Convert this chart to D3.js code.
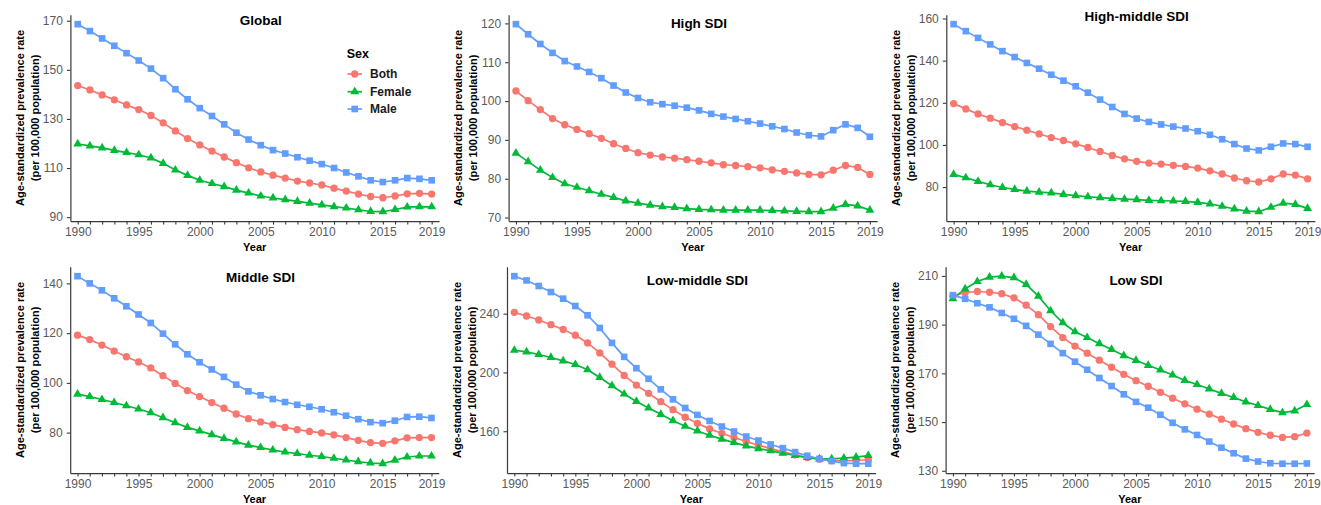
<!DOCTYPE html>
<html>
<head>
<meta charset="utf-8">
<script src="https://cdn.jsdelivr.net/npm/d3@7"></script>
<style>
  html, body { margin: 0; padding: 0; background: #ffffff; }
  svg { display: block; font-family: "Liberation Sans", Arial, Helvetica, sans-serif; }
</style>
</head>
<body>
<script>
// ---- Data: age-standardized prevalence rate (per 100,000), 1990-2019 ----
const years = [1990, 1991, 1992, 1993, 1994, 1995, 1996, 1997, 1998, 1999,
               2000, 2001, 2002, 2003, 2004, 2005, 2006, 2007, 2008, 2009,
               2010, 2011, 2012, 2013, 2014, 2015, 2016, 2017, 2018, 2019];
const labelYears = [1990, 1995, 2000, 2005, 2010, 2015, 2019];
const sexes = ["Both", "Female", "Male"];

const globalBoth   = [143.6, 141.8, 139.8, 137.8, 135.7, 133.8, 131.4, 128.4, 125.1, 122.0,
                      119.4, 116.9, 114.5, 112.2, 110.1, 108.4, 107.1, 105.9, 104.7, 103.9,
                      103.1, 101.8, 100.6, 99.4, 98.4, 97.9, 98.6, 99.5, 99.7, 99.4];
const globalFemale = [119.8, 119.0, 118.2, 117.2, 116.3, 115.4, 114.1, 111.9, 109.2, 107.0,
                      105.0, 103.7, 102.4, 101.0, 99.8, 98.6, 97.8, 97.1, 96.4, 95.7,
                      95.0, 94.3, 93.7, 93.0, 92.3, 92.2, 93.1, 94.1, 94.3, 94.2];
const globalMale   = [168.6, 165.8, 162.8, 159.8, 156.8, 153.8, 150.5, 146.6, 142.1, 138.0,
                      134.4, 131.2, 127.8, 124.4, 121.6, 119.3, 117.3, 115.9, 114.4, 113.0,
                      111.6, 110.0, 108.2, 106.6, 105.0, 104.3, 105.0, 105.9, 105.6, 105.0];

const highBoth   = [102.6, 100.1, 97.8, 95.5, 93.9, 92.7, 91.6, 90.4, 89.0, 87.8,
                    86.7, 86.1, 85.6, 85.3, 84.9, 84.5, 84.1, 83.6, 83.4, 83.1,
                    82.8, 82.3, 81.9, 81.5, 81.1, 81.0, 82.2, 83.4, 82.9, 81.1];
const highFemale = [86.6, 84.4, 82.2, 80.3, 78.7, 77.8, 76.9, 76.0, 75.2, 74.3,
                    73.7, 73.2, 72.8, 72.6, 72.3, 72.1, 72.0, 71.9, 71.9, 71.9,
                    71.9, 71.8, 71.7, 71.6, 71.5, 71.5, 72.4, 73.4, 73.0, 71.9];
const highMale   = [119.8, 117.2, 114.7, 112.4, 110.3, 108.9, 107.5, 105.9, 104.0, 102.2,
                    100.8, 99.7, 99.2, 98.8, 98.3, 97.6, 96.7, 96.0, 95.4, 94.8,
                    94.2, 93.5, 92.8, 91.9, 91.2, 90.9, 92.5, 94.0, 93.1, 90.8];

const highMiddleBoth   = [119.6, 117.1, 114.7, 112.7, 110.6, 108.7, 107.0, 105.2, 103.5, 102.1,
                          100.5, 98.8, 96.9, 95.0, 93.4, 92.2, 91.4, 90.9, 90.3, 89.8,
                          89.0, 87.7, 86.2, 84.3, 83.0, 82.4, 83.9, 86.2, 85.7, 83.9];
const highMiddleFemale = [86.0, 84.4, 82.7, 81.1, 79.8, 78.9, 78.1, 77.6, 77.2, 76.5,
                          75.9, 75.4, 75.0, 74.6, 74.3, 74.0, 73.7, 73.5, 73.4, 73.2,
                          72.7, 72.0, 70.9, 69.6, 68.6, 68.3, 70.4, 72.4, 71.8, 69.9];
const highMiddleMale   = [157.3, 154.0, 150.8, 147.7, 144.5, 141.7, 138.9, 136.2, 133.3, 130.5,
                          127.8, 124.8, 121.5, 118.0, 114.7, 112.5, 110.9, 109.7, 108.7, 107.8,
                          106.5, 104.8, 102.7, 100.4, 98.3, 97.4, 99.1, 100.7, 100.4, 99.1];

const middleBoth   = [119.2, 117.4, 115.2, 112.8, 110.5, 108.4, 106.0, 102.9, 99.8, 96.9,
                      94.5, 92.1, 89.8, 87.5, 85.6, 84.3, 83.2, 82.1, 81.2, 80.5,
                      79.9, 79.1, 78.0, 76.9, 76.0, 75.7, 76.7, 77.9, 78.0, 78.0];
const middleFemale = [95.5, 94.5, 93.3, 92.1, 90.8, 89.5, 88.0, 86.0, 84.0, 82.1,
                      80.7, 79.2, 77.7, 76.3, 75.0, 74.0, 73.0, 72.2, 71.6, 70.9,
                      70.4, 69.7, 69.0, 68.3, 67.8, 67.5, 68.9, 70.2, 70.6, 70.6];
const middleMale   = [142.9, 140.0, 137.2, 134.0, 130.8, 127.5, 124.1, 119.8, 115.5, 111.5,
                      108.3, 105.4, 102.4, 99.3, 96.6, 95.0, 93.5, 92.3, 91.2, 90.4,
                      89.4, 88.2, 86.8, 85.4, 84.2, 83.8, 84.8, 86.3, 86.4, 85.9];

const lowMiddleBoth   = [240.9, 238.4, 235.7, 232.5, 229.2, 225.3, 220.1, 213.3, 205.6, 198.0,
                         191.4, 185.8, 180.1, 174.7, 169.5, 165.4, 161.6, 158.6, 155.7, 153.0,
                         150.5, 148.2, 146.0, 144.0, 142.1, 141.0, 140.1, 139.9, 140.1, 140.6];
const lowMiddleFemale = [215.1, 214.0, 212.2, 210.2, 207.9, 205.4, 201.8, 196.6, 191.0, 185.3,
                         180.3, 175.8, 171.5, 167.2, 163.4, 160.2, 157.3, 154.6, 152.3, 150.0,
                         148.2, 146.7, 145.1, 143.5, 142.1, 141.2, 141.2, 141.7, 142.4, 143.5];
const lowMiddleMale   = [265.5, 262.6, 258.8, 254.7, 250.2, 245.2, 238.9, 230.3, 220.1, 210.6,
                         202.9, 195.7, 188.5, 181.7, 175.8, 171.1, 167.0, 163.2, 159.8, 156.4,
                         153.7, 151.0, 148.5, 145.8, 143.3, 141.2, 139.7, 138.3, 137.9, 137.9];

const lowBoth   = [201.8, 203.2, 203.6, 203.3, 202.7, 201.0, 198.0, 194.1, 189.2, 184.7,
                   181.2, 178.3, 175.4, 172.5, 169.6, 167.0, 164.7, 162.2, 159.8, 157.5,
                   155.3, 153.3, 151.2, 149.2, 147.3, 145.8, 144.6, 143.7, 144.0, 145.5];
const lowFemale = [200.7, 204.7, 207.7, 209.5, 209.9, 209.3, 206.5, 201.7, 195.7, 190.8,
                   187.1, 184.7, 182.2, 179.8, 177.3, 175.3, 173.3, 171.4, 169.3, 167.1,
                   165.4, 163.6, 161.8, 160.1, 158.3, 156.8, 155.2, 153.9, 154.6, 157.2];
const lowMale   = [202.1, 200.6, 198.8, 197.1, 194.8, 192.4, 189.5, 185.9, 182.1, 178.3,
                   174.8, 171.5, 168.1, 164.8, 161.4, 158.3, 155.9, 153.0, 149.7, 147.0,
                   144.7, 142.0, 139.5, 137.2, 135.0, 133.8, 133.1, 132.9, 132.9, 133.0];

// y-axis tick values for each panel
const globalTicks     = [90, 110, 130, 150, 170];
const highTicks       = [70, 80, 90, 100, 110, 120];
const highMiddleTicks = [80, 100, 120, 140, 160];
const middleTicks     = [80, 100, 120, 140];
const lowMiddleTicks  = [160, 200, 240];
const lowTicks        = [130, 150, 170, 190, 210];

const panels = [
  { title: "Global",          Both: globalBoth,     Female: globalFemale,     Male: globalMale,     ticks: globalTicks },
  { title: "High SDI",        Both: highBoth,       Female: highFemale,       Male: highMale,       ticks: highTicks },
  { title: "High-middle SDI", Both: highMiddleBoth, Female: highMiddleFemale, Male: highMiddleMale, ticks: highMiddleTicks },
  { title: "Middle SDI",      Both: middleBoth,     Female: middleFemale,     Male: middleMale,     ticks: middleTicks },
  { title: "Low-middle SDI",  Both: lowMiddleBoth,  Female: lowMiddleFemale,  Male: lowMiddleMale,  ticks: lowMiddleTicks },
  { title: "Low SDI",         Both: lowBoth,        Female: lowFemale,        Male: lowMale,        ticks: lowTicks }
];

// ---- Layout ----
const W = 1321, H = 505;
const panelLeft = [70.4, 508.6, 946.3, 70.2, 507.0, 945.6];
const panelTop  = [14.8, 14.8, 14.8, 266.8, 266.8, 266.8];
const titleDy   = [5.9, 8.5, 1.9, 10.5, 13.2, 13.2];
const panelW = 368.6, panelH = 206.3;

const colors = { Both: "#F8766D", Female: "#00BA38", Male: "#619CFF" };
const shapes = { Both: d3.symbolCircle, Female: d3.symbolTriangle, Male: d3.symbolSquare };
const shapeSize = { Both: 42, Female: 34, Male: 44 };

const svg = d3.select("body").append("svg")
  .attr("width", W).attr("height", H);

const axisColor = "#3a3a3a";
const tickText = "#5a5a5a";

panels.forEach((p, i) => {
  const left = panelLeft[i], top = panelTop[i];
  const g = svg.append("g");

  const x = d3.scaleLinear().domain([1989.4, 2019.6]).range([left, left + panelW]);
  const all = p.Both.concat(p.Female, p.Male);
  const ext = d3.extent(all);
  const pad = (ext[1] - ext[0]) * 0.05;
  const y = d3.scaleLinear().domain([ext[0] - pad, ext[1] + pad]).range([top + panelH, top]);

  // x axis: a tick every year, labels every five years plus 2019
  const xAxis = g.append("g")
    .attr("transform", `translate(0,${top + panelH})`)
    .call(d3.axisBottom(x).tickValues(years).tickSizeInner(3.5).tickSizeOuter(0).tickPadding(3)
      .tickFormat(d => labelYears.includes(d) ? String(d) : ""));

  const yAxis = g.append("g")
    .attr("transform", `translate(${left},0)`)
    .call(d3.axisLeft(y).tickValues(p.ticks).tickSizeInner(3.5).tickSizeOuter(0).tickPadding(4)
      .tickFormat(d3.format("d")));

  [xAxis, yAxis].forEach(a => {
    a.select(".domain").attr("stroke", axisColor).attr("stroke-width", 1.2);
    a.selectAll(".tick line").attr("stroke", axisColor).attr("stroke-width", 1.1);
    a.selectAll(".tick text").attr("fill", tickText).attr("font-size", 12)
      .attr("font-family", "'Liberation Sans', Arial, sans-serif");
  });

  // axis titles
  g.append("text")
    .attr("x", left + panelW / 2).attr("y", top + panelH + 29.5)
    .attr("text-anchor", "middle").attr("font-size", 11).attr("font-weight", "bold")
    .attr("fill", "#000").text("Year");

  const yt = g.append("g")
    .attr("transform", `translate(${left - 50},${top + panelH / 2}) rotate(-90)`);
  yt.append("text").attr("x", 0).attr("y", 0).attr("dy", "0.35em")
    .attr("text-anchor", "middle").attr("font-size", 11).attr("font-weight", "bold")
    .text("Age-standardized prevalence rate");
  yt.append("text").attr("x", 0).attr("y", 15).attr("dy", "0.35em")
    .attr("text-anchor", "middle").attr("font-size", 11).attr("font-weight", "bold")
    .text("(per 100,000 population)");

  // panel title
  g.append("text")
    .attr("x", x(2005)).attr("y", top + titleDy[i]).attr("dy", "0.35em")
    .attr("text-anchor", "middle").attr("font-size", 13.5).attr("font-weight", "bold")
    .attr("fill", "#000").text(p.title);

  // lines first, then points
  const line = d3.line().x((d, k) => x(years[k])).y(d => y(d));
  sexes.forEach(s => {
    g.append("path").datum(p[s])
      .attr("d", line).attr("fill", "none")
      .attr("stroke", colors[s]).attr("stroke-width", 1.7)
      .attr("stroke-linejoin", "round");
  });
  sexes.forEach(s => {
    g.append("g").selectAll("path").data(p[s]).join("path")
      .attr("transform", (d, k) => `translate(${x(years[k])},${y(d)})`)
      .attr("d", d3.symbol().type(shapes[s]).size(shapeSize[s]))
      .attr("fill", colors[s]);
  });

  // legend inside the first panel
  if (i === 0) {
    const lg = svg.append("g");
    lg.append("text").attr("x", 346.7).attr("y", 53.3).attr("dy", "0.35em")
      .attr("font-size", 12.5).attr("font-weight", "bold").text("Sex");
    const rowY = [74, 91.7, 109];
    sexes.forEach((s, k) => {
      lg.append("line").attr("x1", 347.5).attr("x2", 362).attr("y1", rowY[k]).attr("y2", rowY[k])
        .attr("stroke", colors[s]).attr("stroke-width", 1.7);
      lg.append("path").attr("transform", `translate(354.7,${rowY[k]})`)
        .attr("d", d3.symbol().type(shapes[s]).size(shapeSize[s])).attr("fill", colors[s]);
      lg.append("text").attr("x", 370).attr("y", rowY[k]).attr("dy", "0.35em")
        .attr("font-size", 12).attr("font-weight", "bold").attr("fill", "#1a1a1a").text(s);
    });
  }
});
</script>
</body>
</html>
